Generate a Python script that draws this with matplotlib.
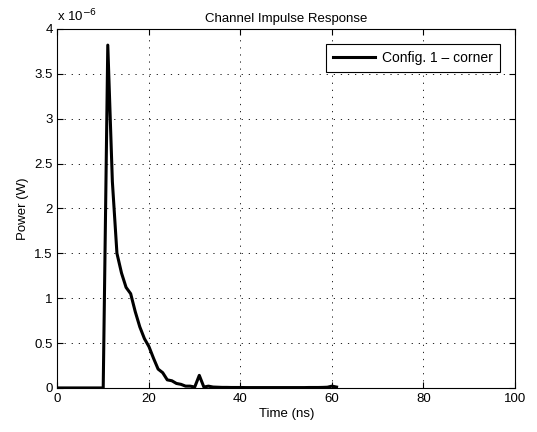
import matplotlib
matplotlib.use("Agg")
import matplotlib.pyplot as plt
from matplotlib.ticker import FuncFormatter

plt.rcParams['font.family'] = ['Liberation Sans', 'DejaVu Sans']

time_ns = list(range(0, 62))
power_uW = [0.0] * 11 + [
    3.82, 2.30, 1.50, 1.28, 1.12, 1.05, 0.85, 0.68, 0.55, 0.46,
    0.33, 0.21, 0.17, 0.09, 0.08, 0.05, 0.04, 0.02, 0.02, 0.01,
    0.14, 0.01, 0.02, 0.01, 0.008, 0.006, 0.006, 0.005, 0.005, 0.005,
    0.004, 0.004, 0.004, 0.004, 0.004, 0.004, 0.004, 0.004, 0.004, 0.004,
    0.004, 0.004, 0.004, 0.004, 0.005, 0.005, 0.005, 0.006, 0.008, 0.02,
    0.01]
x_ticks = [0, 20, 40, 60, 80, 100]
y_ticks = [0, 0.5, 1, 1.5, 2, 2.5, 3, 3.5, 4]

fig = plt.figure(figsize=(5.37, 4.32), dpi=100)
ax = fig.add_axes([0.107, 0.102, 0.852, 0.831])
ax.plot(time_ns, power_uW, color='black', lw=2.2, label='Config. 1 \u2013 corner')
ax.set_xlim(0, 100)
ax.set_ylim(0, 4)
ax.set_xticks(x_ticks)
ax.set_yticks(y_ticks)
ax.yaxis.set_major_formatter(FuncFormatter(lambda v, p: f"{v:g}"))
ax.grid(True, linestyle=(0, (1.5, 7)), color='black', lw=0.6)
ax.tick_params(direction='in', top=True, right=True, labelsize=9.5, length=4)
for s in ax.spines.values():
    s.set_linewidth(0.8)
ax.set_xlabel('Time (ns)', fontsize=9.5, labelpad=2)
ax.set_ylabel('Power (W)', fontsize=9.5, labelpad=4)
ax.set_title('Channel Impulse Response', fontsize=9.5, pad=5)
ax.text(0.0, 1.012, r'x 10$^{-6}$', transform=ax.transAxes, fontsize=9.5, ha='left', va='bottom')
leg = ax.legend(loc='upper right', fontsize=10, fancybox=False, framealpha=1,
                edgecolor='black', handlelength=3.0, borderaxespad=1.1,
                borderpad=0.5, handletextpad=0.5)
leg.get_frame().set_linewidth(0.8)
fig.savefig('out.png', dpi=100)
